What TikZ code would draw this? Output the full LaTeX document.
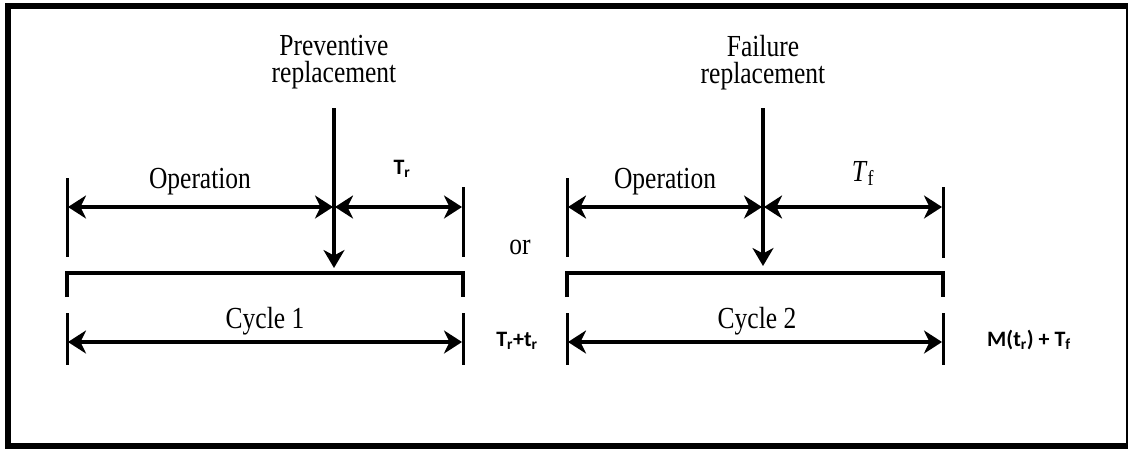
\documentclass[tikz,border=0pt]{standalone}
\usepackage{fontspec}
\setmainfont{Liberation Serif}
\newfontfamily\labelfont{Carlito}
\usetikzlibrary{arrows.meta}
\newcommand{\tallText}[1]{\scalebox{1}[1.2]{#1}}

\begin{document}
\begin{tikzpicture}[x=1pt,y=-1pt,
    main text/.style={font=\fontsize{25.5}{27}\selectfont,align=center,inner sep=0pt,anchor=base},
    sans text/.style={font=\labelfont\bfseries\fontsize{22}{24}\selectfont,inner sep=0pt,anchor=base},
    span arrow/.style={{Stealth[length=18pt,width=23pt,inset=5.5pt]}-{Stealth[length=18pt,width=23pt,inset=5.5pt]},line width=4pt},
    drop arrow/.style={-{Stealth[length=18pt,width=21pt,inset=5.5pt]},line width=3.5pt},
    tick/.style={line width=3pt}]
        \useasboundingbox (0,0) rectangle (1129,450);

        % frame
        \draw[line width=6pt] (1127,6) -- (8,6) -- (8,446) -- (1127,446);
        \draw[line width=1.5pt] (1127,3) -- (1127,449);

        % cycle 1
        \coordinate (s1 top) at (67,178);
        \coordinate (s1 bot) at (67,257);
        \coordinate (e1 top) at (463,187);
        \coordinate (e1 bot) at (463,257);
        \coordinate (pr top) at (334,108);
        \coordinate (pr tip) at (334,268);
        \coordinate (op1 l) at (68,207);
        \coordinate (op1 m) at (333,207);
        \coordinate (op1 n) at (335,207);
        \coordinate (op1 r) at (462,207);
        \coordinate (c1 l) at (68,342);
        \coordinate (c1 r) at (462,342);

        % cycle 2
        \coordinate (s2 top) at (567,178);
        \coordinate (s2 bot) at (567,257);
        \coordinate (e2 top) at (943,187);
        \coordinate (e2 bot) at (943,258);
        \coordinate (fr top) at (763,108);
        \coordinate (fr tip) at (763,266);
        \coordinate (op2 l) at (568,207);
        \coordinate (op2 m) at (762,207);
        \coordinate (op2 n) at (764,207);
        \coordinate (op2 r) at (942,207);
        \coordinate (c2 l) at (568,342);
        \coordinate (c2 r) at (942,342);

        \node[main text, anchor=north] at (334,35.5) (prev) {\tallText{Preventive}\\\tallText{replacement}};
        \node[main text] at (200,188) (op1) {\tallText{Operation}};
        \node[sans text] at (402,174) (tr) {T\textsubscript{r}};
        \node[main text] at (520,254) (or) {\tallText{or}};
        \node[main text] at (265,328) (cyc1) {\tallText{Cycle 1}};
        \node[sans text] at (517,346) (tot1) {T\textsubscript{r}+t\textsubscript{r}};

        \node[main text, anchor=north] at (763,35.5) (fail) {\tallText{Failure}\\\tallText{replacement}};
        \node[main text] at (665,188) (op2) {\tallText{Operation}};
        \node[main text] at (863,181) (tf) {\tallText{\textit{T}\textsubscript{f}}};
        \node[main text] at (757,328) (cyc2) {\tallText{Cycle 2}};
        \node[sans text] at (1029,346) (tot2) {M(t\textsubscript{r}) + T\textsubscript{f}};

        \path
            (s1 top) edge[tick] (s1 bot)
            (e1 top) edge[tick] (e1 bot)
            (s2 top) edge[tick] (s2 bot)
            (e2 top) edge[tick] (e2 bot)
            (pr top) edge[drop arrow] (pr tip)
            (fr top) edge[drop arrow] (fr tip)
            (op1 l) edge[span arrow] (op1 m)
            (op1 n) edge[span arrow] (op1 r)
            (op2 l) edge[span arrow] (op2 m)
            (op2 n) edge[span arrow] (op2 r)
            (c1 l) edge[span arrow] (c1 r)
            (c2 l) edge[span arrow] (c2 r)
            ;

        % brackets and lower ticks
        \draw[line width=3.5pt] (67,297) -- (67,273) -- (463,273) -- (463,297);
        \draw[line width=3.5pt] (567,297) -- (567,273) -- (943,273) -- (943,297);
        \draw[tick] (67,313) -- (67,365) (463,313) -- (463,365);
        \draw[tick] (567,313) -- (567,365) (943,313) -- (943,365);
    \end{tikzpicture}
\end{document}
